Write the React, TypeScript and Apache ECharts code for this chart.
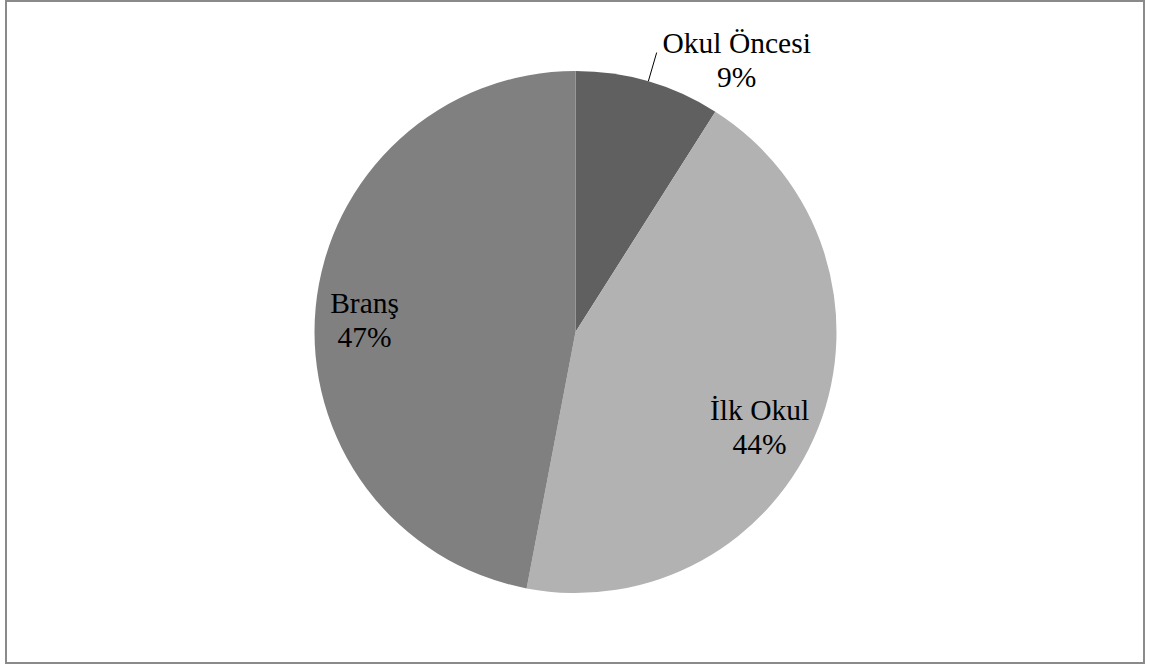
import React, { useEffect, useRef } from "react";
import * as echarts from "echarts";

const categories = ["Okul Öncesi", "İlk Okul", "Branş"];
const values = [9, 44, 47];
const colors = ["#606060", "#b2b2b2", "#808080"];

const FONT = "Liberation Serif";

export default function App() {
  const ref = useRef<HTMLDivElement>(null);
  useEffect(() => {
    if (!ref.current) return;
    const chart = echarts.init(ref.current, null, { renderer: "svg" });
    const labelOffsets: Record<number, [number, number]> = {
      1: [60, 46],
      2: [-78, 1],
    };
    const rich = {
      a: {
        width: 150,
        align: "center",
        fontSize: 29.5,
        lineHeight: 34,
        fontFamily: FONT,
        color: "#000",
      },
    };
    chart.setOption({
      animation: false,
      backgroundColor: "#fff",
      textStyle: { fontFamily: FONT },
      graphic: [
        {
          type: "rect",
          shape: { x: 6, y: 1, width: 1138, height: 662 },
          style: { fill: "none", stroke: "#8a8a8a", lineWidth: 2 },
          silent: true,
        },
      ],
      series: [
        {
          type: "pie",
          center: [575.5, 332],
          radius: 261,
          startAngle: 90,
          clockwise: true,
          avoidLabelOverlap: false,
          percentPrecision: 0,
          itemStyle: { borderWidth: 0 },
          emphasis: { disabled: true },
          label: {
            show: true,
            position: "inside",
            fontFamily: FONT,
            fontSize: 29.5,
            color: "#000",
            formatter: "{a|{b}}\n{a|{d}%}",
            rich,
          },
          labelLine: { show: false },
          labelLayout: (p: any) => {
            const o = labelOffsets[p.dataIndex];
            return o ? { dx: o[0], dy: o[1] } : {};
          },
          data: categories.map((name, i) => ({
            name,
            value: values[i],
            itemStyle: { color: colors[i] },
            ...(i === 0
              ? {
                  label: {
                    position: "outside",
                    distanceToLabelLine: 5,
                    padding: [14, 0, 0, 0],
                    fontFamily: FONT,
                    fontSize: 29.5,
                    color: "#000",
                    formatter: "{a|{b}}\n{a|{d}%}",
                    rich,
                  },
                  labelLine: {
                    show: true,
                    length: 30,
                    length2: 0,
                    lineStyle: { color: "#000", width: 1 },
                  },
                }
              : {}),
          })),
        },
      ],
    });
    return () => chart.dispose();
  }, []);
  return (
    <div
      ref={ref}
      style={{ position: "fixed", left: 0, top: 0, width: 1150, height: 666 }}
    />
  );
}
